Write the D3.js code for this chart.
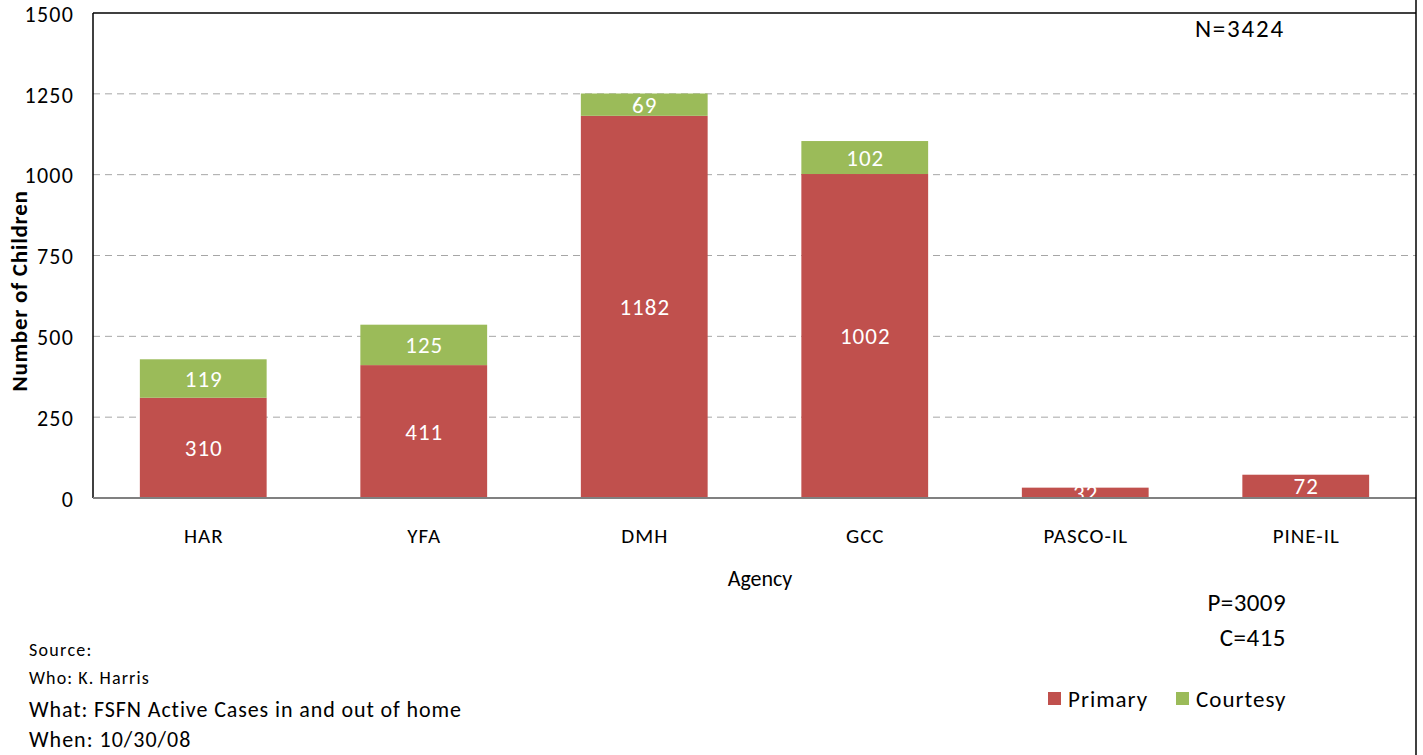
<!DOCTYPE html>
<html>
<head>
<meta charset="utf-8">
<script src="https://cdn.jsdelivr.net/npm/d3@7"></script>
<style>
  body { margin:0; background:#fff; }
  text { font-family: Carlito, Lato, "Open Sans", sans-serif; }
</style>
</head>
<body>
<div id="chart"></div>
<script>
  const agencies = ["HAR", "YFA", "DMH", "GCC", "PASCO-IL", "PINE-IL"];
  const primary = [310, 411, 1182, 1002, 32, 72];
  const courtesy = [119, 125, 69, 102, 0, 0];
  const yTicks = [0, 250, 500, 750, 1000, 1250, 1500];
  const seriesNames = ["Primary", "Courtesy"];
  const colors = ["#C0504D", "#9BBB59"];

  const W = 1423, H = 755;
  const margin = {top:13, right:7, bottom:257, left:93};
  const width = W - margin.left - margin.right;
  const height = H - margin.top - margin.bottom;

  const svg = d3.select("#chart").append("svg")
    .attr("width", W).attr("height", H);

  const g = svg.append("g")
    .attr("transform", "translate(" + margin.left + "," + margin.top + ")");

  const x = d3.scaleBand().domain(agencies).range([0, width]).paddingInner(0.425).paddingOuter(0.2125);
  const y = d3.scaleLinear().domain([0, 1500]).range([height, 0]);

  // grid
  g.selectAll(".grid").data(yTicks.filter(function(d){ return d > 0 && d < 1500; }))
    .enter().append("line")
    .attr("x1", 0).attr("x2", width)
    .attr("y1", function(d){ return y(d); }).attr("y2", function(d){ return y(d); })
    .attr("stroke", "#a6a6a6").attr("stroke-dasharray", "7,5");

  const rows = agencies.map(function(a, i){ return {agency:a, Primary:primary[i], Courtesy:courtesy[i]}; });
  const stacked = d3.stack().keys(seriesNames)(rows);

  svg.append("clipPath").attr("id", "clip")
    .append("rect").attr("x", 0).attr("y", 0).attr("width", width).attr("height", height);

  stacked.forEach(function(s, si){
    const layer = g.append("g");
    layer.selectAll("rect").data(s).enter().append("rect")
      .attr("x", function(d){ return x(d.data.agency); })
      .attr("width", x.bandwidth())
      .attr("y", function(d){ return y(d[1]); })
      .attr("height", function(d){ return y(d[0]) - y(d[1]); })
      .attr("fill", colors[si]);
    layer.append("g").attr("clip-path", "url(#clip)")
      .selectAll("text").data(s.filter(function(d){ return d[1] - d[0] > 0; })).enter().append("text")
      .attr("x", function(d){ return x(d.data.agency) + x.bandwidth() / 2 + 0.5; })
      .attr("y", function(d){ return (y(d[0]) + y(d[1])) / 2; })
      .attr("dy", "0.35em")
      .attr("text-anchor", "middle")
      .attr("fill", "#fff")
      .style("font-size", "23px").style("letter-spacing", "1px")
      .text(function(d){ return d[1] - d[0]; });
  });

  // frame
  g.append("line").attr("x1", 0).attr("x2", 0).attr("y1", 0).attr("y2", height).attr("stroke", "#000").attr("stroke-width", 1.5);
  g.append("line").attr("x1", 0).attr("x2", width).attr("y1", 0).attr("y2", 0).attr("stroke", "#000").attr("stroke-width", 1.5);
  svg.append("line").attr("x1", margin.left + width).attr("x2", margin.left + width).attr("y1", 0).attr("y2", H).attr("stroke", "#000").attr("stroke-width", 1.5);
  g.append("line").attr("x1", 0).attr("x2", width).attr("y1", height).attr("y2", height).attr("stroke", "#808080").attr("stroke-width", 2);

  // y axis labels
  g.selectAll(".ytick").data(yTicks).enter().append("text")
    .attr("x", -19).attr("y", function(d){ return y(d); })
    .attr("dy", "0.4em").attr("text-anchor", "end")
    .style("font-size", "22px").style("letter-spacing", "1.2px").attr("fill", "#000")
    .text(function(d){ return d; });

  // x labels
  g.selectAll(".xtick").data(agencies).enter().append("text")
    .attr("x", function(d){ return x(d) + x.bandwidth() / 2 + 0.5; })
    .attr("y", 543 - margin.top)
    .attr("text-anchor", "middle")
    .style("font-size", "21px").style("letter-spacing", "1px")
    .text(function(d){ return d; });

  svg.append("text").attr("x", 760).attr("y", 586).attr("text-anchor", "middle")
    .style("font-size", "22px").text("Agency");

  svg.append("text").attr("transform", "translate(27,291) rotate(-90)")
    .attr("text-anchor", "middle").style("font-size", "23px").style("font-weight", "bold")
    .style("letter-spacing", "0.7px")
    .text("Number of Children");

  svg.append("text").attr("x", 1285).attr("y", 37).attr("text-anchor", "end")
    .style("font-size", "25px").style("letter-spacing", "1.8px").text("N=3424");
  svg.append("text").attr("x", 1286).attr("y", 611).attr("text-anchor", "end")
    .style("font-size", "25px").style("letter-spacing", "0.4px").text("P=3009");
  svg.append("text").attr("x", 1286).attr("y", 646).attr("text-anchor", "end")
    .style("font-size", "25px").style("letter-spacing", "0.5px").text("C=415");

  // legend
  const legendX = [1048, 1176];
  seriesNames.forEach(function(n, i){
    svg.append("rect").attr("x", legendX[i]).attr("y", 692).attr("width", 13).attr("height", 13).attr("fill", colors[i]);
    svg.append("text").attr("x", legendX[i] + 20).attr("y", 707)
      .style("font-size", "23px").style("letter-spacing", "1px").text(n);
  });

  // source notes
  const notes = [
    {t:"Source:", y:656, s:18, ls:1.3},
    {t:"Who: K. Harris", y:684, s:18, ls:1.1},
    {t:"What: FSFN Active Cases in and out of home", y:717, s:22, ls:0.9},
    {t:"When: 10/30/08", y:747, s:22, ls:1.0}
  ];
  svg.selectAll(".note").data(notes).enter().append("text")
    .attr("x", 29).attr("y", function(d){ return d.y; })
    .style("font-size", function(d){ return d.s + "px"; })
    .style("letter-spacing", function(d){ return d.ls + "px"; })
    .text(function(d){ return d.t; });
</script>
</body>
</html>
